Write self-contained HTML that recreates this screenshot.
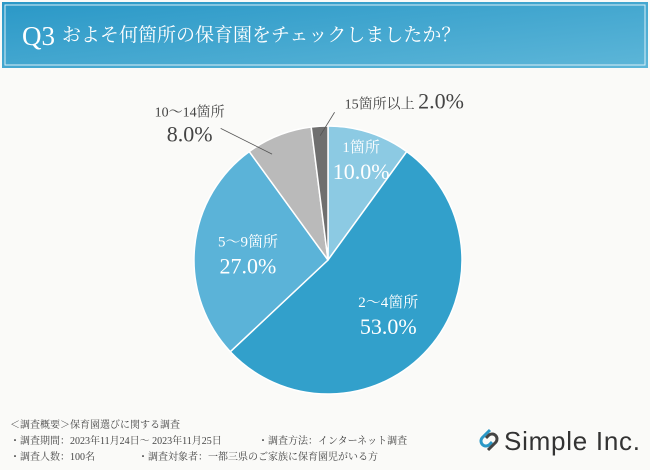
<!DOCTYPE html>
<html><head><meta charset="utf-8"><style>
body{margin:0;width:650px;height:465px;background:#fafaf8;overflow:hidden;font-family:"Liberation Serif","Noto Serif CJK SC",serif;}
</style></head><body>
<svg width="650" height="465" viewBox="0 0 650 465">
<defs><linearGradient id="hg" x1="0" y1="0" x2="1" y2="1"><stop offset="0" stop-color="#2a98c7"/><stop offset="1" stop-color="#5db6d8"/></linearGradient></defs>
<g>
<rect x="2" y="2" width="646" height="66" fill="url(#hg)"/>
<rect x="5" y="5" width="640" height="60" fill="none" stroke="#d8eef7" stroke-width="1"/>
<text x="22" y="45" fill="#fff" font-size="27">Q3</text>
<text x="62" y="41" fill="#fff" font-size="19">およそ何箇所の保育園をチェックしましたか？</text>
</g>
<g id="pie"></g>
<g id="labels" font-size="14" fill="#fff"></g>
<g font-size="10" fill="#444">
<text x="10" y="428">＜調査概要＞保育園選びに関する調査</text>
<text x="10" y="444">・調査期間：2023年11月24日～ 2023年11月25日</text>
<text x="258" y="444">・調査方法：インターネット調査</text>
<text x="10" y="460">・調査人数：100名</text>
<text x="138" y="460">・調査対象者：一都三県のご家族に保育園児がいる方</text>
</g>
<g>
<path d="M490 430 l-8 8 a5 5 0 0 0 7 7 l3 -3" fill="none" stroke="#2a98c7" stroke-width="3"/>
<path d="M488 450 l8 -8 a5 5 0 0 0 -7 -7 l-3 3" fill="none" stroke="#444" stroke-width="3"/>
<text x="504" y="450" font-family="Liberation Sans,sans-serif" font-size="26" textLength="136" fill="#333">Simple Inc.</text>
</g>
</svg>
<script>
const categories=["1箇所","2～4箇所","5～9箇所","10～14箇所","15箇所以上"];
const values=[10.0,53.0,27.0,8.0,2.0];
const valueLabels=["10.0%","53.0%","27.0%","8.0%","2.0%"];
const colors=["#8ccae3","#32a0cb","#5bb3d8","#bababa","#6f6f6f"];
const ns="http://www.w3.org/2000/svg";
const cx=328,cy=260,r=134;
const total=values.reduce((a,b)=>a+b,0);
const pie=document.getElementById('pie');
const lab=document.getElementById('labels');
function pt(a,rr){return [cx+rr*Math.sin(a),cy-rr*Math.cos(a)];}
function mk(tag,attrs,name){const e=document.createElementNS(ns,tag);for(const k in attrs)e.setAttribute(k,attrs[k]);
  
  
  return e;}
let a0=0;
values.forEach((v,i)=>{
  const a1=a0+v/total*2*Math.PI;
  const p0=pt(a0,r),p1=pt(a1,r);
  const large=(a1-a0)>Math.PI?1:0;
  const path=document.createElementNS(ns,'path');
  path.setAttribute('d',`M${cx},${cy}L${p0[0]},${p0[1]}A${r},${r} 0 ${large} 1 ${p1[0]},${p1[1]}Z`);
  path.setAttribute('fill',colors[i]);
  path.setAttribute('stroke','#fff');
  path.setAttribute('stroke-width','1.5');
  
  
  pie.appendChild(path);
  const mid=(a0+a1)/2;
  const frac=v/total;
  if(frac>=0.09){
    const c=pt(mid,r*(frac<0.15?0.8:0.6));
    const t1=mk('text',{x:c[0],y:c[1]-6,'text-anchor':'middle','font-size':'15'},'slice-label-'+i);
    t1.textContent=categories[i];lab.appendChild(t1);
    const t2=mk('text',{x:c[0],y:c[1]+21,'text-anchor':'middle','font-size':'22'},'slice-value-'+i);
    t2.textContent=valueLabels[i];lab.appendChild(t2);
  } else if(frac>0.05){
    const o=pt(mid,r),e=pt(mid,r*0.85);
    const lx=o[0]-89, ly=o[1]+3;
    lab.appendChild(mk('line',{x1:e[0]-14,y1:e[1],x2:lx+31,y2:ly-10,stroke:'#555','stroke-width':'0.8'},'leader-line-'+i));
    const t1=mk('text',{x:lx,y:ly-22,'text-anchor':'middle',fill:'#444','font-size':'14'},'slice-label-'+i);
    t1.textContent=categories[i];lab.appendChild(t1);
    const t2=mk('text',{x:lx,y:ly+3,'text-anchor':'middle',fill:'#444','font-size':'22'},'slice-value-'+i);
    t2.textContent=valueLabels[i];lab.appendChild(t2);
  } else {
    const o=pt(mid,r),e=pt(mid,r*0.93);
    const lx=o[0]+25, ly=o[1]-18;
    lab.appendChild(mk('line',{x1:e[0],y1:e[1],x2:lx-10,y2:ly+4,stroke:'#555','stroke-width':'0.8'},'leader-line-'+i));
    const t=mk('text',{x:lx,y:ly,fill:'#444','font-size':'14'},'slice-label-'+i);
    t.textContent=categories[i]+' ';
    const s=document.createElementNS(ns,'tspan');
    s.setAttribute('font-size','22');
    s.textContent=valueLabels[i];t.appendChild(s);
    lab.appendChild(t);
  }
  a0=a1;
});
</script>
</body></html>
